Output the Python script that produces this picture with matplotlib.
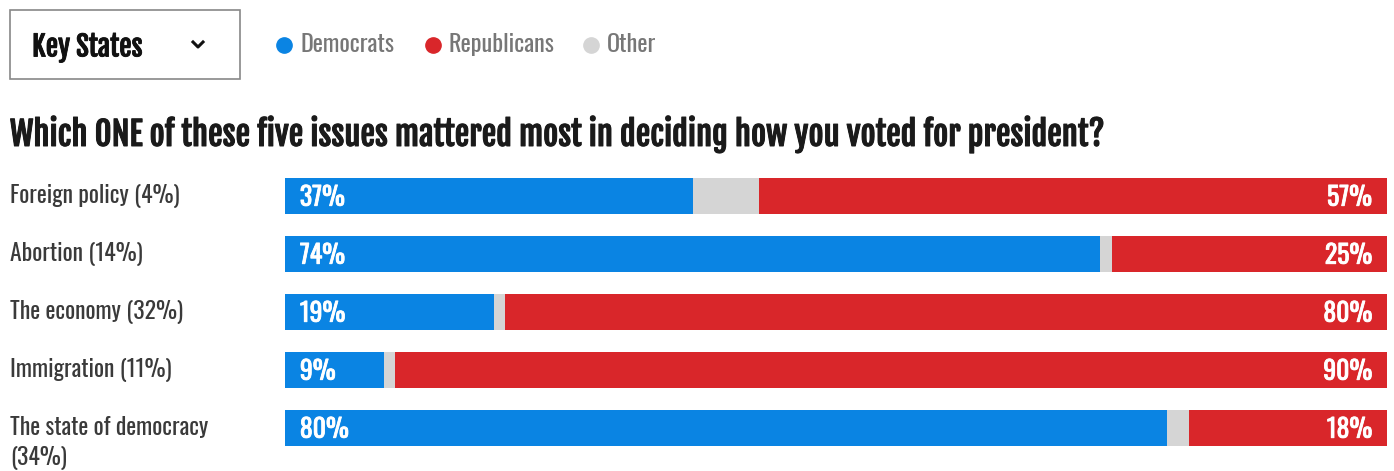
import matplotlib
matplotlib.use("Agg")
import matplotlib.pyplot as plt
import matplotlib.transforms as mtransforms
import matplotlib.patheffects as pe
from matplotlib.patches import Rectangle
import numpy as np

categories = ["Foreign policy (4%)", "Abortion (14%)", "The economy (32%)",
              "Immigration (11%)", "The state of democracy\n(34%)"]
dem = [37, 74, 19, 9, 80]
other = [6, 1, 1, 1, 2]
rep = [57, 25, 80, 90, 18]
legend_labels = ["Democrats", "Republicans", "Other"]
title = "Which ONE of these five issues mattered most in deciding how you voted for president?"
dropdown = "Key States"

BLUE = "#0a84e3"
RED = "#d9262a"
GRAY = "#d5d5d5"
REG = ["Oswald", "DejaVu Sans"]
BOLD = ["Fjalla One", "Oswald", "DejaVu Sans"]
plt.rcParams['font.family'] = REG

W, H = 1394, 471
fig = plt.figure(figsize=(W / 100, H / 100), dpi=100)
fig.patch.set_facecolor("white")

def fx(px):
    return px / W

def fy(py):
    return 1 - py / H

# bars axes
x0, x1 = 285, 1387
ytop, ybot = 167, 457
ax = fig.add_axes([fx(x0), fy(ybot), fx(x1 - x0), (ybot - ytop) / H])
y = np.arange(len(categories))
d = np.array(dem); o = np.array(other); r = np.array(rep)
ax.barh(y, d, height=0.62, color=BLUE, linewidth=0)
ax.barh(y, o, left=d, height=0.62, color=GRAY, linewidth=0)
ax.barh(y, r, left=d + o, height=0.62, color=RED, linewidth=0)
ax.set_xlim(0, 100)
ax.set_ylim(len(categories) - 0.5, -0.5)
ax.axis("off")

bold_white = [pe.withStroke(linewidth=0.6, foreground="white")]
for i in range(len(categories)):
    ax.text(1.35, y[i] + 0.03, f"{dem[i]}%", color="white", fontsize=18.5, va="center",
            ha="left", path_effects=bold_white)
    ax.text(100 - 1.35, y[i] + 0.03, f"{rep[i]}%", color="white", fontsize=18.5, va="center",
            ha="right", path_effects=bold_white)

# category labels
trans = mtransforms.blended_transform_factory(fig.transFigure, ax.transData)
for i, cat in enumerate(categories):
    lines = cat.split("\n")
    for j, line in enumerate(lines):
        ax.text(fx(10), y[i] + j * 0.52, line, transform=trans, fontsize=17,
                color="#3a3a3a", va="center", ha="left")

# title
fig.text(fx(10), fy(134), title, fontsize=23.5, family=BOLD, color="#1a1a1a",
         va="center", ha="left",
         path_effects=[pe.withStroke(linewidth=0.7, foreground="#1a1a1a")])

# dropdown box
box = Rectangle((fx(10), fy(79)), fx(230), (79 - 10) / H, transform=fig.transFigure,
                facecolor="white", edgecolor="#888888", linewidth=1.2)
fig.patches.append(box)
fig.text(fx(32), fy(47), dropdown, fontsize=20, family=BOLD, color="#111111",
         va="center", ha="left",
         path_effects=[pe.withStroke(linewidth=0.6, foreground="#111111")])
fig.lines.append(plt.Line2D([fx(193), fx(198), fx(203)], [fy(42), fy(47), fy(42)],
                            transform=fig.transFigure, color="#111111", linewidth=2.2))

# legend
leg_x = [284, 433, 591]
leg_colors = [BLUE, RED, GRAY]
for lx, lc, lab in zip(leg_x, leg_colors, legend_labels):
    fig.lines.append(plt.Line2D([fx(lx)], [fy(45)], transform=fig.transFigure, marker="o",
                                markersize=11, color=lc, linestyle="none"))
    fig.text(fx(lx + 16), fy(45), lab, fontsize=17.5, color="#777777", va="center", ha="left")

fig.savefig("out.png", dpi=100, facecolor="white")
